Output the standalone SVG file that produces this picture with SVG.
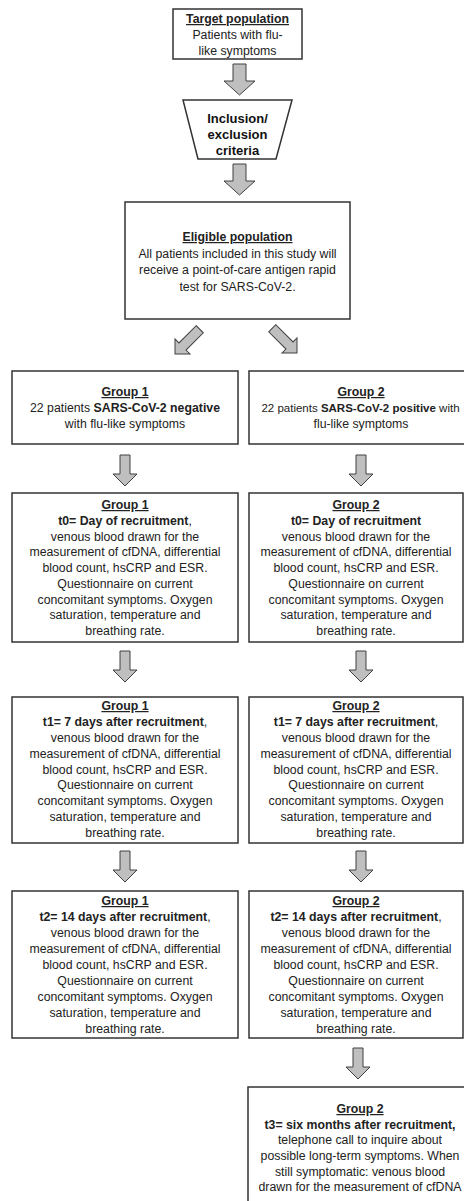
<svg xmlns="http://www.w3.org/2000/svg" width="464" height="1201" viewBox="0 0 464 1201">
<style>
  .box { fill: #ffffff; stroke: #333333; stroke-width: 1.5; }
  .arrow { fill: #bfbfbf; stroke: #404040; stroke-width: 1; stroke-linejoin: miter; }
  text { font-family: "Liberation Sans", Arial, sans-serif; font-size: 12.3px; fill: #222222; text-anchor: middle; }
  .b { font-weight: bold; }
  .u { font-weight: bold; text-decoration: underline; }
  .crit { font-family: "Liberation Sans", Arial, sans-serif; font-size: 13px; font-weight: bold; fill: #111111; }
</style>
<defs>
  <path id="bigArrow" class="arrow" d="M-6.5,-31 H6.5 V-14 H15.5 L0,0 L-15.5,-14 H-6.5 Z"/>
  <path id="smallArrow" class="arrow" d="M-5,-31 H5 V-12 H12 L0,0 L-12,-12 H-5 Z"/>
  <path id="diagArrow" class="arrow" d="M-5,-35 H5 V-10.6 H10.6 L0,0 L-10.6,-10.6 H-5 Z"/>
</defs>
<rect width="464" height="1201" fill="#ffffff"/>

<g id="connectors">
  <use href="#bigArrow" transform="translate(239.5,95)"/>
  <use href="#bigArrow" transform="translate(239.5,195)"/>
  <use href="#diagArrow" transform="translate(175,354) rotate(45)"/>
  <use href="#diagArrow" transform="translate(297,353) rotate(-45)"/>
  <use href="#smallArrow" transform="translate(125,486)"/>
  <use href="#smallArrow" transform="translate(361,486)"/>
  <use href="#smallArrow" transform="translate(125,682)"/>
  <use href="#smallArrow" transform="translate(361,682)"/>
  <use href="#smallArrow" transform="translate(125,882)"/>
  <use href="#smallArrow" transform="translate(361,882)"/>
  <use href="#smallArrow" transform="translate(358,1079)"/>
</g>

<g id="target">
  <rect class="box" x="173" y="9" width="129" height="50"/>
  <text x="237.5" y="23" class="u">Target population</text>
  <text x="237.5" y="39">Patients with flu-</text>
  <text x="237.5" y="55">like symptoms</text>
</g>

<g id="criteria">
  <polygon class="box" points="183,100 292,100 276,159 198,159"/>
  <text class="crit" x="237.5" y="123">Inclusion/</text>
  <text class="crit" x="237.5" y="139">exclusion</text>
  <text class="crit" x="237.5" y="155">criteria</text>
</g>

<g id="eligible">
  <rect class="box" x="125" y="202" width="225" height="117"/>
  <text x="237.5" y="241" class="u">Eligible population</text>
  <text x="237.5" y="257.5">All patients included in this study will</text>
  <text x="237.5" y="274">receive a point-of-care antigen rapid</text>
  <text x="237.5" y="290.5">test for SARS-CoV-2.</text>
</g>

<g id="g1-start">
  <rect class="box" x="12" y="371" width="226" height="73"/>
  <text x="125" y="396" class="u">Group 1</text>
  <text x="125" y="412">22 patients <tspan class="b">SARS-CoV-2 negative</tspan></text>
  <text x="125" y="428">with flu-like symptoms</text>
</g>

<g id="g2-start">
  <rect class="box" x="249" y="371" width="224" height="73"/>
  <text x="361" y="396" class="u">Group 2</text>
  <text x="360.5" y="412" style="font-size:11.5px">22 patients <tspan class="b">SARS-CoV-2 positive</tspan> with</text>
  <text x="361" y="428">flu-like symptoms</text>
</g>

<g id="g1-t0">
  <rect class="box" x="12" y="493" width="226" height="149"/>
  <text x="125" y="509" class="u">Group 1</text>
  <text x="125" y="524.7"><tspan class="b">t0= Day of recruitment</tspan>,</text>
  <text x="125" y="540.5">venous blood drawn for the</text>
  <text x="125" y="556.2">measurement of cfDNA, differential</text>
  <text x="125" y="572">blood count, hsCRP and ESR.</text>
  <text x="125" y="587.7">Questionnaire on current</text>
  <text x="125" y="603.5">concomitant symptoms. Oxygen</text>
  <text x="125" y="619.2">saturation, temperature and</text>
  <text x="125" y="635">breathing rate.</text>
</g>

<g id="g2-t0">
  <rect class="box" x="249" y="493" width="214" height="149"/>
  <text x="356" y="509" class="u">Group 2</text>
  <text x="356" y="524.7" class="b">t0= Day of recruitment</text>
  <text x="356" y="540.5">venous blood drawn for the</text>
  <text x="356" y="556.2">measurement of cfDNA, differential</text>
  <text x="356" y="572">blood count, hsCRP and ESR.</text>
  <text x="356" y="587.7">Questionnaire on current</text>
  <text x="356" y="603.5">concomitant symptoms. Oxygen</text>
  <text x="356" y="619.2">saturation, temperature and</text>
  <text x="356" y="635">breathing rate.</text>
</g>

<g id="g1-t1">
  <rect class="box" x="12" y="697" width="226" height="146"/>
  <text x="125" y="710" class="u">Group 1</text>
  <text x="125" y="725.9"><tspan class="b">t1= 7 days after recruitment</tspan>,</text>
  <text x="125" y="741.7">venous blood drawn for the</text>
  <text x="125" y="757.6">measurement of cfDNA, differential</text>
  <text x="125" y="773.5">blood count, hsCRP and ESR.</text>
  <text x="125" y="789.3">Questionnaire on current</text>
  <text x="125" y="805.2">concomitant symptoms. Oxygen</text>
  <text x="125" y="821">saturation, temperature and</text>
  <text x="125" y="837">breathing rate.</text>
</g>

<g id="g2-t1">
  <rect class="box" x="249" y="697" width="214" height="146"/>
  <text x="356" y="710" class="u">Group 2</text>
  <text x="356" y="725.9"><tspan class="b">t1= 7 days after recruitment</tspan>,</text>
  <text x="356" y="741.7">venous blood drawn for the</text>
  <text x="356" y="757.6">measurement of cfDNA, differential</text>
  <text x="356" y="773.5">blood count, hsCRP and ESR.</text>
  <text x="356" y="789.3">Questionnaire on current</text>
  <text x="356" y="805.2">concomitant symptoms. Oxygen</text>
  <text x="356" y="821">saturation, temperature and</text>
  <text x="356" y="837">breathing rate.</text>
</g>

<g id="g1-t2">
  <rect class="box" x="12" y="891" width="226" height="147"/>
  <text x="125" y="905" class="u">Group 1</text>
  <text x="125" y="921"><tspan class="b">t2= 14 days after recruitment</tspan>,</text>
  <text x="125" y="937">venous blood drawn for the</text>
  <text x="125" y="953">measurement of cfDNA, differential</text>
  <text x="125" y="969">blood count, hsCRP and ESR.</text>
  <text x="125" y="985">Questionnaire on current</text>
  <text x="125" y="1001">concomitant symptoms. Oxygen</text>
  <text x="125" y="1017">saturation, temperature and</text>
  <text x="125" y="1033">breathing rate.</text>
</g>

<g id="g2-t2">
  <rect class="box" x="249" y="891" width="214" height="147"/>
  <text x="356" y="905" class="u">Group 2</text>
  <text x="356" y="921"><tspan class="b">t2= 14 days after recruitment</tspan>,</text>
  <text x="356" y="937">venous blood drawn for the</text>
  <text x="356" y="953">measurement of cfDNA, differential</text>
  <text x="356" y="969">blood count, hsCRP and ESR.</text>
  <text x="356" y="985">Questionnaire on current</text>
  <text x="356" y="1001">concomitant symptoms. Oxygen</text>
  <text x="356" y="1017">saturation, temperature and</text>
  <text x="356" y="1033">breathing rate.</text>
</g>

<g id="g2-t3">
  <rect class="box" x="248" y="1087" width="224" height="130"/>
  <text x="360" y="1113" class="u">Group 2</text>
  <text x="360" y="1128.5" class="b">t3= six months after recruitment,</text>
  <text x="360" y="1144">telephone call to inquire about</text>
  <text x="360" y="1160">possible long-term symptoms. When</text>
  <text x="360" y="1175.5">still symptomatic: venous blood</text>
  <text x="360" y="1191">drawn for the measurement of cfDNA</text>
</g>
</svg>
